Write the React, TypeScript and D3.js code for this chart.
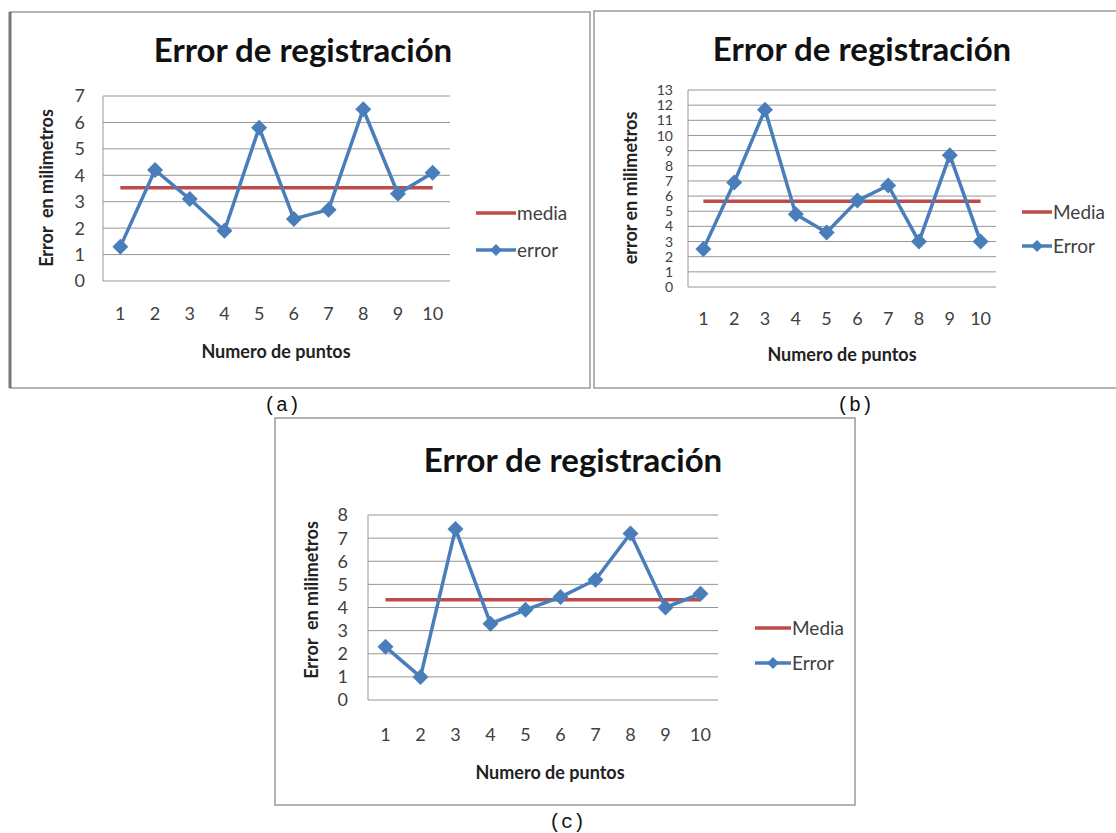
import React from "react";
import * as d3 from "d3";

const categories = ["1", "2", "3", "4", "5", "6", "7", "8", "9", "10"];

const errorA = [1.3, 4.2, 3.1, 1.9, 5.8, 2.35, 2.7, 6.5, 3.3, 4.1];
const mediaA = 3.53;
const errorB = [2.5, 6.9, 11.7, 4.8, 3.6, 5.7, 6.7, 3.0, 8.7, 3.0];
const mediaB = 5.66;
const errorC = [2.3, 1.0, 7.4, 3.3, 3.9, 4.45, 5.2, 7.2, 4.0, 4.6];
const mediaC = 4.33;

const yTicksA = [0, 1, 2, 3, 4, 5, 6, 7];
const yTicksB = [0, 1, 2, 3, 4, 5, 6, 7, 8, 9, 10, 11, 12, 13];
const yTicksC = [0, 1, 2, 3, 4, 5, 6, 7, 8];

const titleText = "Error de registración";
const xTitle = "Numero de puntos";
const yTitleA = "Error  en milimetros";
const yTitleB = "error en milimetros";
const yTitleC = "Error  en milimetros";
const legendA = ["media", "error"];
const legendB = ["Media", "Error"];
const legendC = ["Media", "Error"];

const BLUE = "#4A7EBB";
const RED = "#BE4B48";
const GRID = "#969696";
const TXT = "#404040";
const FONT = "Lato, 'Open Sans', sans-serif";

type PanelProps = {
  box: { x: number; y: number; w: number; h: number };
  plot: { x0: number; x1: number; top: number; bottom: number };
  yTicks: number[];
  values: number[];
  media: number;
  titleX: number;
  titleY: number;
  yLabelRight: number;
  yLabelSize: number;
  xLabelY: number;
  xTitleX: number;
  xTitleY: number;
  yTitle: string;
  yTitleX: number;
  yTitleY: number;
  legend: string[];
  legX: number;
  legY1: number;
  legY2: number;
  legLen: number;
  borderLeft?: boolean;
};

function Diamond({ x, y, r }: { x: number; y: number; r: number }) {
  return (
    <path
      d={`M${x},${y - r}L${x + r},${y}L${x},${y + r}L${x - r},${y}Z`}
      fill={BLUE}
    />
  );
}

function Panel(p: PanelProps) {
  const x = d3
    .scaleBand<string>()
    .domain(categories)
    .range([p.plot.x0, p.plot.x1]);
  const yMax = p.yTicks[p.yTicks.length - 1];
  const y = d3.scaleLinear().domain([0, yMax]).range([p.plot.bottom, p.plot.top]);
  const cx = (c: string) => (x(c) as number) + x.bandwidth() / 2;
  const line = d3
    .line<number>()
    .x((_, i) => cx(categories[i]))
    .y((v) => y(v));
  return (
    <g>
      <rect
        x={p.box.x}
        y={p.box.y}
        width={p.box.w}
        height={p.box.h}
        fill="#fff"
        stroke="#9a9a9a"
        strokeWidth={1.5}
      />
      {p.borderLeft && (
        <line
          x1={p.box.x}
          x2={p.box.x}
          y1={p.box.y}
          y2={p.box.y + p.box.h}
          stroke="#777"
          strokeWidth={3}
        />
      )}
      <text
        x={p.titleX}
        y={p.titleY}
        textAnchor="middle"
        fontFamily={FONT}
        fontWeight="bold"
        fontSize={33}
        fill="#111"
      >
        {titleText}
      </text>
      {p.yTicks.map((t) => (
        <g key={t}>
          <line
            x1={p.plot.x0}
            x2={p.plot.x1}
            y1={y(t)}
            y2={y(t)}
            stroke={GRID}
            strokeWidth={1}
          />
          <text
            x={p.yLabelRight}
            y={y(t)}
            dy="0.36em"
            textAnchor="end"
            fontFamily={FONT}
            fontSize={p.yLabelSize}
            fill={TXT}
          >
            {t}
          </text>
        </g>
      ))}
      <line
        x1={p.plot.x0}
        x2={p.plot.x0}
        y1={p.plot.top}
        y2={p.plot.bottom}
        stroke={GRID}
        strokeWidth={1}
      />
      {categories.map((c) => (
        <text
          key={c}
          x={cx(c)}
          y={p.xLabelY}
          textAnchor="middle"
          fontFamily={FONT}
          fontSize={18}
          fill={TXT}
        >
          {c}
        </text>
      ))}
      <text
        x={p.xTitleX}
        y={p.xTitleY}
        textAnchor="middle"
        fontFamily={FONT}
        fontWeight="bold"
        fontSize={18}
        fill="#222"
      >
        {xTitle}
      </text>
      <text
        transform={`translate(${p.yTitleX},${p.yTitleY}) rotate(-90)`}
        textAnchor="middle"
        dy="0.35em"
        fontFamily={FONT}
        fontWeight="bold"
        fontSize={18}
        fill="#222"
        style={{ whiteSpace: "pre" }}
      >
        {p.yTitle}
      </text>
      <line
        x1={cx(categories[0])}
        x2={cx(categories[categories.length - 1])}
        y1={y(p.media)}
        y2={y(p.media)}
        stroke={RED}
        strokeWidth={3.5}
      />
      <path d={line(p.values) || ""} fill="none" stroke={BLUE} strokeWidth={3.5} strokeLinejoin="round" />
      {p.values.map((v, i) => (
        <Diamond key={i} x={cx(categories[i])} y={y(v)} r={8} />
      ))}
      <line
        x1={p.legX}
        x2={p.legX + p.legLen}
        y1={p.legY1}
        y2={p.legY1}
        stroke={RED}
        strokeWidth={3.5}
      />
      <text
        x={p.legX + p.legLen + 1}
        y={p.legY1}
        dy="0.35em"
        fontFamily={FONT}
        fontSize={19}
        fill={TXT}
      >
        {p.legend[0]}
      </text>
      <line
        x1={p.legX}
        x2={p.legX + p.legLen}
        y1={p.legY2}
        y2={p.legY2}
        stroke={BLUE}
        strokeWidth={3.5}
      />
      <Diamond x={p.legX + p.legLen / 2} y={p.legY2} r={6} />
      <text
        x={p.legX + p.legLen + 1}
        y={p.legY2}
        dy="0.35em"
        fontFamily={FONT}
        fontSize={19}
        fill={TXT}
      >
        {p.legend[1]}
      </text>
    </g>
  );
}

export default function App() {
  return (
    <svg
      width={1116}
      height={833}
      style={{ position: "absolute", left: 0, top: 0, background: "#fff" }}
    >
      <rect x={0} y={0} width={1116} height={833} fill="#fff" />
      <Panel
        box={{ x: 10, y: 12, w: 580, h: 376 }}
        plot={{ x0: 103, x1: 450, top: 96, bottom: 281 }}
        yTicks={yTicksA}
        values={errorA}
        media={mediaA}
        titleX={303}
        titleY={62}
        yLabelRight={85}
        yLabelSize={18}
        xLabelY={320}
        xTitleX={276}
        xTitleY={358}
        yTitle={yTitleA}
        yTitleX={47}
        yTitleY={188}
        legend={legendA}
        legX={476}
        legY1={213}
        legY2={250}
        legLen={40}
        borderLeft
      />
      <Panel
        box={{ x: 594, y: 11, w: 530, h: 377 }}
        plot={{ x0: 688, x1: 996, top: 90, bottom: 287 }}
        yTicks={yTicksB}
        values={errorB}
        media={mediaB}
        titleX={862}
        titleY={61}
        yLabelRight={673}
        yLabelSize={14}
        xLabelY={325}
        xTitleX={842}
        xTitleY={361}
        yTitle={yTitleB}
        yTitleX={631}
        yTitleY={188}
        legend={legendB}
        legX={1022}
        legY1={212}
        legY2={246}
        legLen={30}
      />
      <Panel
        box={{ x: 275, y: 418, w: 580, h: 387 }}
        plot={{ x0: 368, x1: 718, top: 515, bottom: 700 }}
        yTicks={yTicksC}
        values={errorC}
        media={mediaC}
        titleX={573}
        titleY={472}
        yLabelRight={348}
        yLabelSize={18}
        xLabelY={741}
        xTitleX={550}
        xTitleY={779}
        yTitle={yTitleC}
        yTitleX={312}
        yTitleY={600}
        legend={legendC}
        legX={755}
        legY1={628}
        legY2={663}
        legLen={36}
      />
      <text x={282} y={411} textAnchor="middle" fontFamily="'Liberation Mono', monospace" fontSize={20} fill="#111">(a)</text>
      <text x={855} y={411} textAnchor="middle" fontFamily="'Liberation Mono', monospace" fontSize={20} fill="#111">(b)</text>
      <text x={567} y={828} textAnchor="middle" fontFamily="'Liberation Mono', monospace" fontSize={20} fill="#111">(c)</text>
    </svg>
  );
}
